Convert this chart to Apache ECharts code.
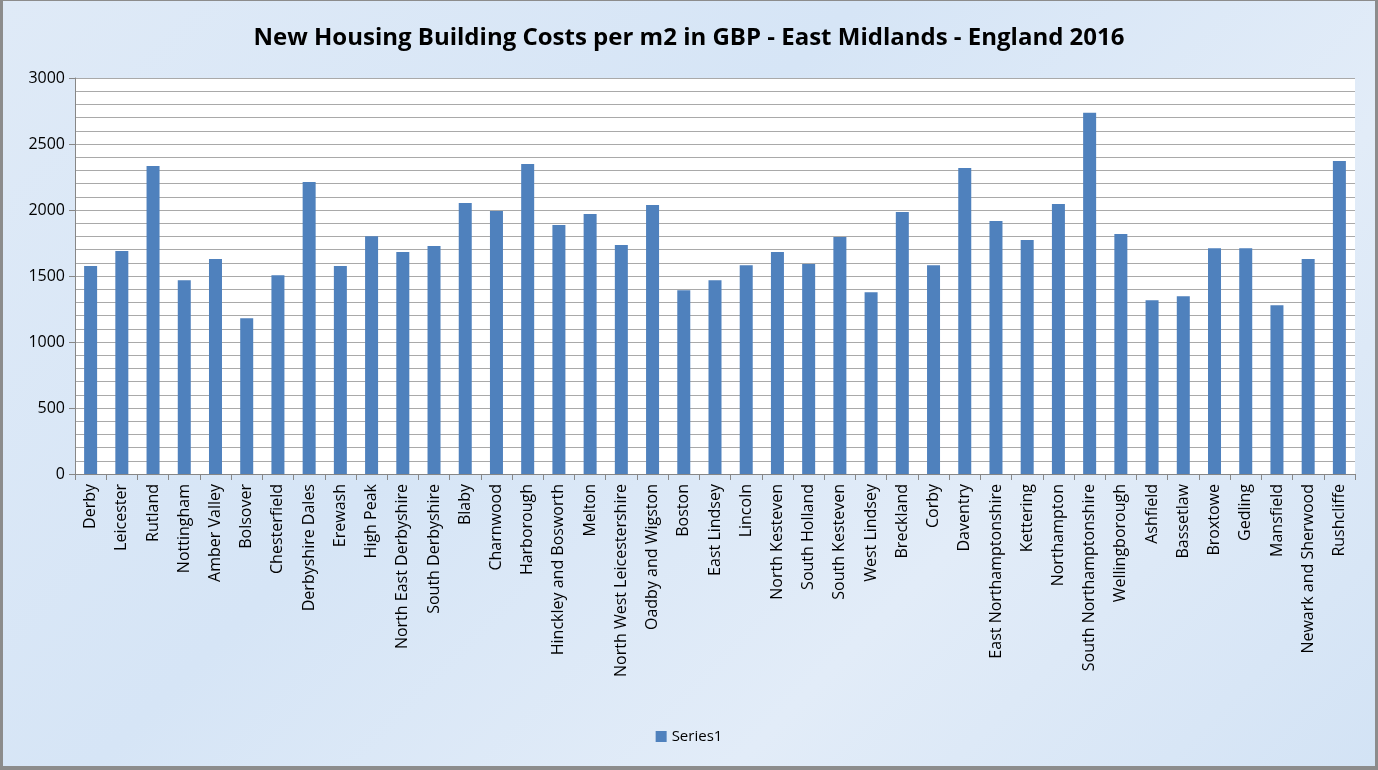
<!DOCTYPE html>
<html>
<head>
<meta charset="utf-8">
<title>New Housing Building Costs</title>
<script src="https://cdn.jsdelivr.net/npm/echarts@6/dist/echarts.min.js"></script>
<style>
html, body { margin: 0; padding: 0; background: #8c8c8c; }
#main { position: absolute; left: 3px; top: 1px; width: 1372px; height: 765px;
        background: linear-gradient(135deg, #dfeaf7 0%, #d6e5f6 40%, #e2ecf8 70%, #d3e3f5 100%); }
</style>
</head>
<body>
<div id="main"></div>
<script>
var titleText = 'New Housing Building Costs per m2 in GBP - East Midlands - England 2016';
var seriesName = 'Series1';
var districts = ['Derby', 'Leicester', 'Rutland', 'Nottingham', 'Amber Valley', 'Bolsover',
    'Chesterfield', 'Derbyshire Dales', 'Erewash', 'High Peak', 'North East Derbyshire',
    'South Derbyshire', 'Blaby', 'Charnwood', 'Harborough', 'Hinckley and Bosworth', 'Melton',
    'North West Leicestershire', 'Oadby and Wigston', 'Boston', 'East Lindsey', 'Lincoln',
    'North Kesteven', 'South Holland', 'South Kesteven', 'West Lindsey', 'Breckland', 'Corby',
    'Daventry', 'East Northamptonshire', 'Kettering', 'Northampton', 'South Northamptonshire',
    'Wellingborough', 'Ashfield', 'Bassetlaw', 'Broxtowe', 'Gedling', 'Mansfield',
    'Newark and Sherwood', 'Rushcliffe'];
var costs = [1575, 1689, 2334, 1468, 1628, 1180, 1506, 2213, 1575, 1802, 1681,
    1727, 2053, 1992, 2349, 1886, 1970, 1734, 2038, 1392, 1468, 1582,
    1681, 1590, 1795, 1377, 1985, 1582, 2319, 1916, 1772, 2046, 2737,
    1818, 1316, 1347, 1711, 1711, 1278, 1628, 2372];

var myChart = echarts.init(document.getElementById('main'));
var option = {
    textStyle: { fontFamily: 'Open Sans' },
    title: {
        text: titleText,
        left: 'center',
        top: 20,
        textStyle: { fontSize: 24, fontWeight: 'bold', color: '#000', fontFamily: 'Open Sans' }
    },
    legend: {
        data: [seriesName],
        bottom: 17,
        left: 'center',
        itemWidth: 11,
        itemHeight: 11,
        itemGap: 4,
        icon: 'rect',
        textStyle: { fontSize: 15, color: '#000' }
    },
    grid: { left: 72, right: 20, top: 77, bottom: 292, show: true, backgroundColor: '#fff', borderWidth: 0 },
    xAxis: {
        type: 'category',
        data: districts,
        axisLine: { lineStyle: { color: '#878787' } },
        axisTick: { show: true, length: 6, lineStyle: { color: '#878787' } },
        axisLabel: { interval: 0, rotate: 90, color: '#000', fontSize: 16, margin: 10 }
    },
    yAxis: {
        type: 'value',
        min: 0,
        max: 3000,
        interval: 500,
        axisLine: { show: true, lineStyle: { color: '#878787' } },
        axisTick: { show: true, length: 6, lineStyle: { color: '#878787' } },
        axisLabel: { color: '#000', fontSize: 16, margin: 10, formatter: function (v) { return String(v); } },
        splitLine: { lineStyle: { color: '#a9a9a9' } },
        minorTick: { show: false, splitNumber: 5 },
        minorSplitLine: { show: true, lineStyle: { color: '#a9a9a9' } }
    },
    series: [{
        name: seriesName,
        type: 'bar',
        data: costs,
        barWidth: 13,
        itemStyle: { color: '#4f81bd' }
    }]
};
myChart.setOption(option);
</script>
</body>
</html>
